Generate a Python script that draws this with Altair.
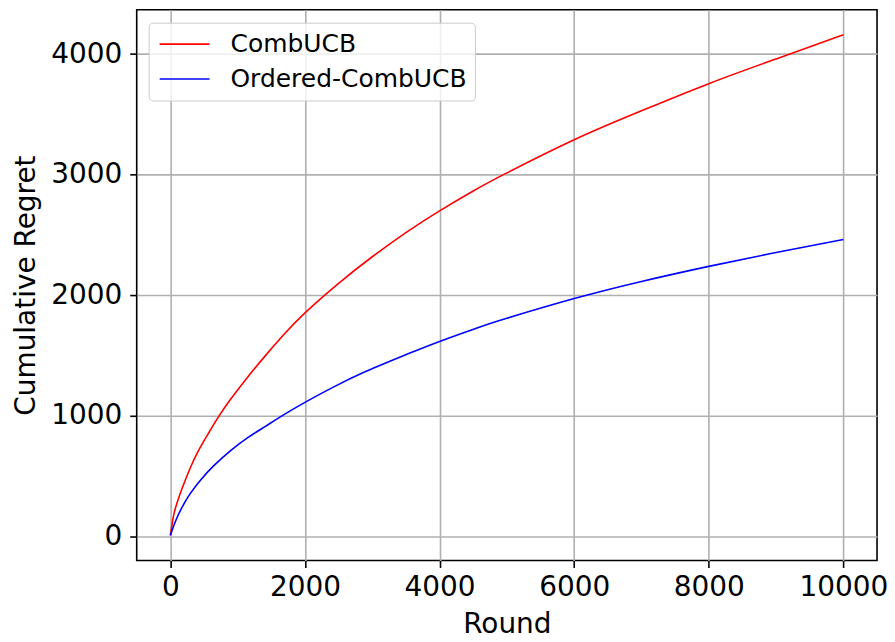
import altair as alt
import pandas as pd

# ---- data ----
series_names = ["CombUCB", "Ordered-CombUCB"]
series_colors = ["#ff0000", "#0000ff"]

comb_rounds = [0, 50, 100, 175, 300, 420, 570, 700, 870, 1110, 1400, 1700, 2000,
               2500, 3000, 3500, 4000, 4500, 5000, 6000, 7000, 8000, 9000, 10000]
comb_regret = [10, 180, 280, 400, 575, 715, 860, 980, 1120, 1295, 1492, 1683, 1855,
               2100, 2320, 2520, 2700, 2865, 3015, 3290, 3530, 3755, 3960, 4160]

ordered_rounds = [0, 75, 175, 300, 450, 650, 900, 1150, 1400, 1700, 2000, 2400,
                  2900, 3500, 4000, 4600, 5000, 6000, 7000, 8000, 9000, 10000]
ordered_regret = [10, 125, 245, 360, 470, 590, 715, 820, 910, 1015, 1113, 1233,
                  1368, 1508, 1618, 1738, 1810, 1973, 2115, 2240, 2355, 2463]

x_ticks = [0, 2000, 4000, 6000, 8000, 10000]
y_ticks = [0, 1000, 2000, 3000, 4000]

df = pd.concat([
    pd.DataFrame({"Round": comb_rounds, "Regret": comb_regret, "Algorithm": series_names[0]}),
    pd.DataFrame({"Round": ordered_rounds, "Regret": ordered_regret, "Algorithm": series_names[1]}),
], ignore_index=True)

FONT = "DejaVu Sans"
W, H = 742, 552

chart = alt.Chart(df).mark_line(strokeWidth=1.6, interpolate="natural", clip=True).encode(
    x=alt.X("Round:Q",
            scale=alt.Scale(domain=[-500, 10500], nice=False, zero=False),
            axis=alt.Axis(values=x_ticks, format="d", title="Round",
                          labelFlush=False, labelPadding=6,
                          titleX=W / 2, titleY=72, titleBaseline="alphabetic",
                          titleAlign="center")),
    y=alt.Y("Regret:Q",
            scale=alt.Scale(domain=[-198, 4368], nice=False, zero=False),
            axis=alt.Axis(values=y_ticks, format="d", title="Cumulative Regret",
                          labelPadding=8,
                          titleX=-102, titleY=H / 2, titleBaseline="alphabetic",
                          titleAlign="center", titleAngle=-90)),
    color=alt.Color("Algorithm:N",
                    scale=alt.Scale(domain=series_names, range=series_colors),
                    sort=series_names,
                    legend=alt.Legend(title=None, orient="none", legendX=12, legendY=13,
                                      symbolType="M-0.84,0H3.16", symbolSize=625,
                                      symbolStrokeWidth=1.6, labelFontSize=25,
                                      labelFont=FONT, labelColor="#000000",
                                      labelLimit=500,
                                      labelOffset=47, padding=8, rowPadding=8,
                                      strokeColor="#cccccc", fillColor="rgba(255,255,255,0.8)",
                                      cornerRadius=4)),
).properties(
    width=W, height=H,
    autosize=alt.AutoSizeParams(type="none"),
    padding={"left": 129, "top": 1, "right": 10, "bottom": 80},
).configure_view(
    stroke="#000000", strokeWidth=1.6
).configure_axis(
    labelFont=FONT, titleFont=FONT, labelFontSize=28, titleFontSize=28,
    titleFontWeight="normal", labelColor="#000000", titleColor="#000000",
    tickColor="#000000", tickWidth=1.6, tickSize=7, domain=False,
    grid=True, gridColor="#b0b0b0", gridWidth=1.6,
)

chart.save("out.html", embed_options={"renderer": "svg", "actions": False})
